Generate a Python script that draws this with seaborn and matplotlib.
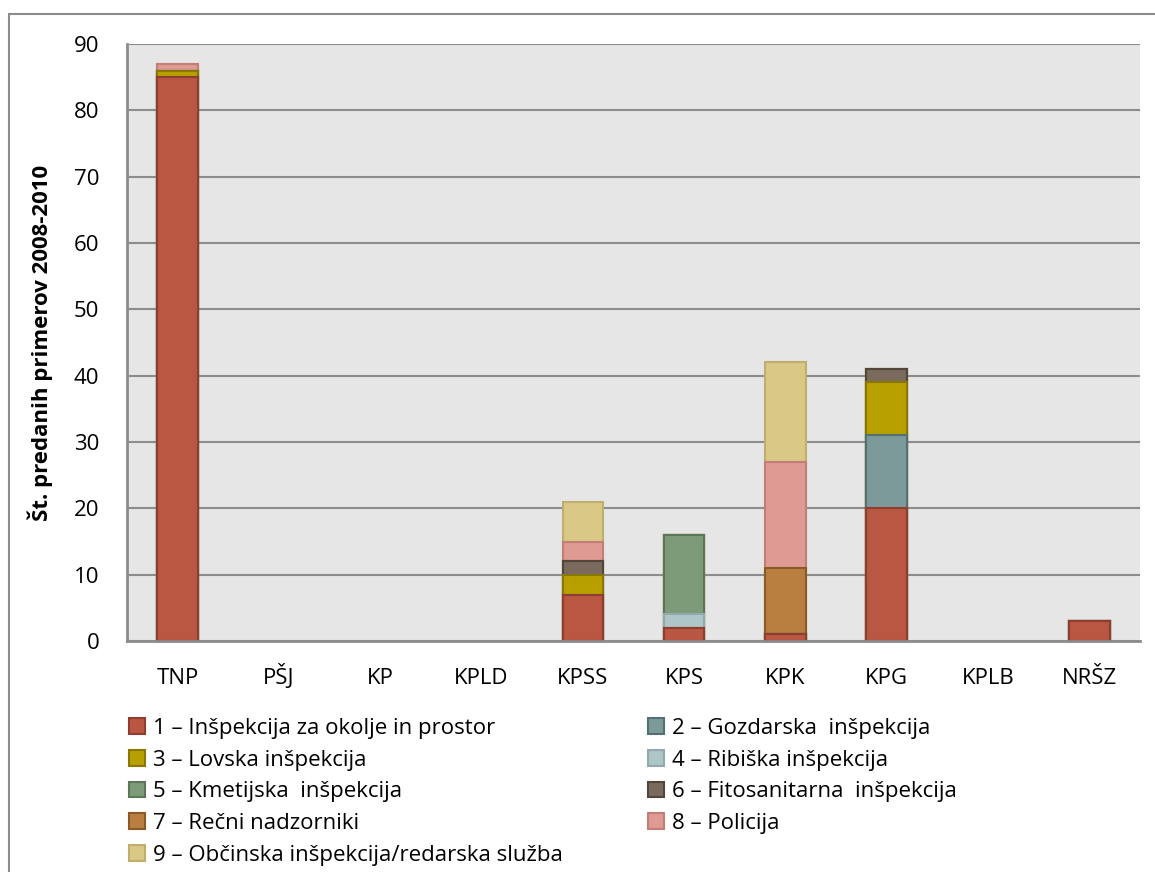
import numpy as np
import pandas as pd
import matplotlib
matplotlib.use("Agg")
import matplotlib.pyplot as plt
import seaborn as sns
from matplotlib.patches import Patch, Rectangle

# podatki
kategorije = ["TNP", "PŠJ", "KP", "KPLD", "KPSS", "KPS", "KPK", "KPG", "KPLB", "NRŠZ"]
inspekcije = [
    "1 – Inšpekcija za okolje in prostor",
    "2 – Gozdarska  inšpekcija",
    "3 – Lovska inšpekcija",
    "4 – Ribiška inšpekcija",
    "5 – Kmetijska  inšpekcija",
    "6 – Fitosanitarna  inšpekcija",
    "7 – Rečni nadzorniki",
    "8 – Policija",
    "9 – Občinska inšpekcija/redarska služba",
]
s1 = [85, 0, 0, 0, 7, 2, 1, 20, 0, 3]
s2 = [0, 0, 0, 0, 0, 0, 0, 11, 0, 0]
s3 = [1, 0, 0, 0, 3, 0, 0, 8, 0, 0]
s4 = [0, 0, 0, 0, 0, 2, 0, 0, 0, 0]
s5 = [0, 0, 0, 0, 0, 12, 0, 0, 0, 0]
s6 = [0, 0, 0, 0, 2, 0, 0, 2, 0, 0]
s7 = [0, 0, 0, 0, 0, 0, 10, 0, 0, 0]
s8 = [1, 0, 0, 0, 3, 0, 16, 0, 0, 0]
s9 = [0, 0, 0, 0, 6, 0, 15, 0, 0, 0]
serije = [s1, s2, s3, s4, s5, s6, s7, s8, s9]

barve = ["#BA5742", "#7C9A9A", "#B8A000", "#AFC6C9", "#7E9B79",
         "#7A6A5E", "#B97F40", "#DE9A93", "#D9C886"]
robovi = ["#8E3E2E", "#566F6F", "#8A7700", "#93AAAD", "#5C7758",
          "#524539", "#8C5A26", "#C08078", "#BFAE6E"]

sns.set_style("white", {"text.color": "black", "axes.labelcolor": "black",
                        "xtick.color": "black", "ytick.color": "black"})
plt.rcParams["font.family"] = ["Open Sans", "DejaVu Sans"]

fig = plt.figure(figsize=(11.55, 8.72), dpi=100)
ax = fig.add_axes([127/1155, 1 - 641/872, (1140 - 127)/1155, (641 - 44)/872])
ax.set_facecolor("#E6E6E6")

# zložene stolpce rišemo od vrha navzdol (kumulativne vsote)
kum = np.cumsum(np.array(serije), axis=0)
for i in range(len(serije) - 1, -1, -1):
    df = pd.DataFrame({"kat": kategorije, "vrednost": kum[i]})
    sns.barplot(data=df, x="kat", y="vrednost", color=barve[i], width=0.4,
                edgecolor=robovi[i], linewidth=1.5, saturation=1, ax=ax, zorder=3)

for p in ax.patches:
    if p.get_height() == 0:
        p.set_visible(False)

ax.set_ylim(0, 90)
ax.set_xlim(-0.5, 9.5)
ax.set_yticks(range(0, 91, 10))
ax.yaxis.grid(True, color="#8C8C8C", linewidth=1.5, zorder=1)
ax.set_axisbelow(True)
for s in ["top", "right"]:
    ax.spines[s].set_visible(False)
for s in ["left", "bottom"]:
    ax.spines[s].set_color("#8C8C8C")
    ax.spines[s].set_linewidth(2)
    ax.spines[s].set_zorder(4)

ax.set_xticks(np.arange(-0.5, 10, 1), minor=True)
ax.tick_params(axis="x", which="major", length=0, labelsize=16, pad=31, labelcolor="black")
ax.tick_params(axis="x", which="minor", length=7, width=1.5, color="#8C8C8C", direction="out")
ax.tick_params(axis="y", length=7, width=1.5, color="#8C8C8C", direction="out", labelsize=16,
               pad=13, labelcolor="black")
for lbl in ax.get_xticklabels():
    lbl.set_verticalalignment("baseline")
ax.set_xlabel("")
ax.set_ylabel("Št. predanih primerov 2008-2010", fontsize=16, fontweight="bold", color="black")
ax.yaxis.set_label_coords(-0.073, 0.5)

# legenda: dva stolpca, vrstni red po vrsticah
vrstni_red = [0, 2, 4, 6, 8, 1, 3, 5, 7]
rocaji = [Patch(facecolor=barve[i], edgecolor=robovi[i], linewidth=1.5) for i in vrstni_red]
oznake = [inspekcije[i] for i in vrstni_red]
fig.legend(rocaji, oznake, ncol=2, loc="upper left", bbox_to_anchor=(129/1155, 1 - 718/872),
           frameon=False, fontsize=16, handlelength=0.72, handleheight=0.72,
           handletextpad=0.36, labelspacing=0.48, columnspacing=3.85, borderpad=0,
           borderaxespad=0, labelcolor="black")

# okvir grafikona
fig.patches.append(Rectangle((9/1155, -0.1), 1.2, 1.1 - 14/872, transform=fig.transFigure,
                             fill=False, edgecolor="#8C8C8C", linewidth=1.5))

fig.savefig("out.png", dpi=100)
